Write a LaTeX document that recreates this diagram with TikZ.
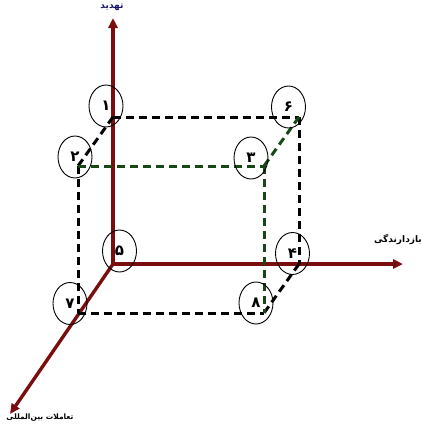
\documentclass[tikz,border=0pt]{standalone}
\usepackage{fontspec}
\newfontfamily\fa[Script=Arabic]{DejaVu Sans}
\TeXXeTstate=1
\usetikzlibrary{arrows.meta,shapes.geometric}
\definecolor{axisred}{RGB}{122,14,14}
\definecolor{dgreen}{RGB}{22,72,22}
\definecolor{navyblue}{RGB}{20,20,110}
\begin{document}
\begin{tikzpicture}[x=1pt,y=-1pt,
  axis/.style={draw=axisred,line width=3.4pt,-{Triangle[length=10pt,width=9pt]}},
  edgeblk/.style={draw=black,line width=3pt,dash pattern=on 8pt off 5pt},
  edgegrn/.style={draw=dgreen,line width=3pt,dash pattern=on 8pt off 5pt},
  ring/.style={ellipse,draw=black,line width=0.9pt,minimum width=34pt,minimum height=42pt,inner sep=0pt,font=\fa\bfseries\fontsize{15}{15}\selectfont},
  lab/.style={inner sep=0pt,font=\fa\bfseries\fontsize{9}{10}\selectfont}]
\useasboundingbox (0,0) rectangle (423,429);
% corners
\coordinate (O) at (113,264);
\coordinate (Ytip) at (113,18);
\coordinate (Xtip) at (403,264);
\coordinate (Ztip) at (10,414);
\coordinate (c1) at (113,117);
\coordinate (c6) at (299,117);
\coordinate (c2) at (78,166);
\coordinate (c3) at (264,166);
\coordinate (c7) at (78,313);
\coordinate (c8) at (264,313);
\coordinate (c4) at (299,264);
% axes
\draw[axis] (O) -- (Ytip);
\draw[axis] (O) -- (Xtip);
\draw[axis] (O) -- (Ztip);
% cube edges
\draw[edgeblk] (c1) -- (c6);
\draw[edgeblk] (c1) -- (c2);
\draw[edgeblk] (c2) -- (c7);
\draw[edgeblk] (c6) -- (c4);
\draw[edgeblk] (c7) -- (c8);
\draw[edgeblk] (c4) -- (c8);
\draw[edgegrn] (c2) -- (c3);
\draw[edgegrn] (c3) -- (c8);
\draw[edgegrn] (c6) -- (c3);
% rings
\node[ring] (n1) at (106,106) {\beginR ۱\endR};
\node[ring] (n2) at (75,157) {\beginR ۲\endR};
\node[ring] (n6) at (288.5,107) {\beginR ۶\endR};
\node[ring] (n3) at (251,158) {\beginR ۳\endR};
\node[ring] (n5) at (119.5,251) {\beginR ۵\endR};
\node[ring] (n7) at (70,303.5) {\beginR ۷\endR};
\node[ring] (n4) at (292.5,253.5) {\beginR ۴\endR};
\node[ring] (n8) at (256,303) {\beginR ۸\endR};
% labels
\node[lab,text=navyblue] (ly) at (112,7) {\beginR تهدید\endR};
\node[lab,anchor=east] (lx) at (422,240) {\beginR بازدارندگی\endR};
\node[lab,font=\fa\bfseries\fontsize{7.5}{9}\selectfont] (lz) at (40,418) {\beginR تعاملات بین‌المللی\endR};
\end{tikzpicture}
\end{document}
